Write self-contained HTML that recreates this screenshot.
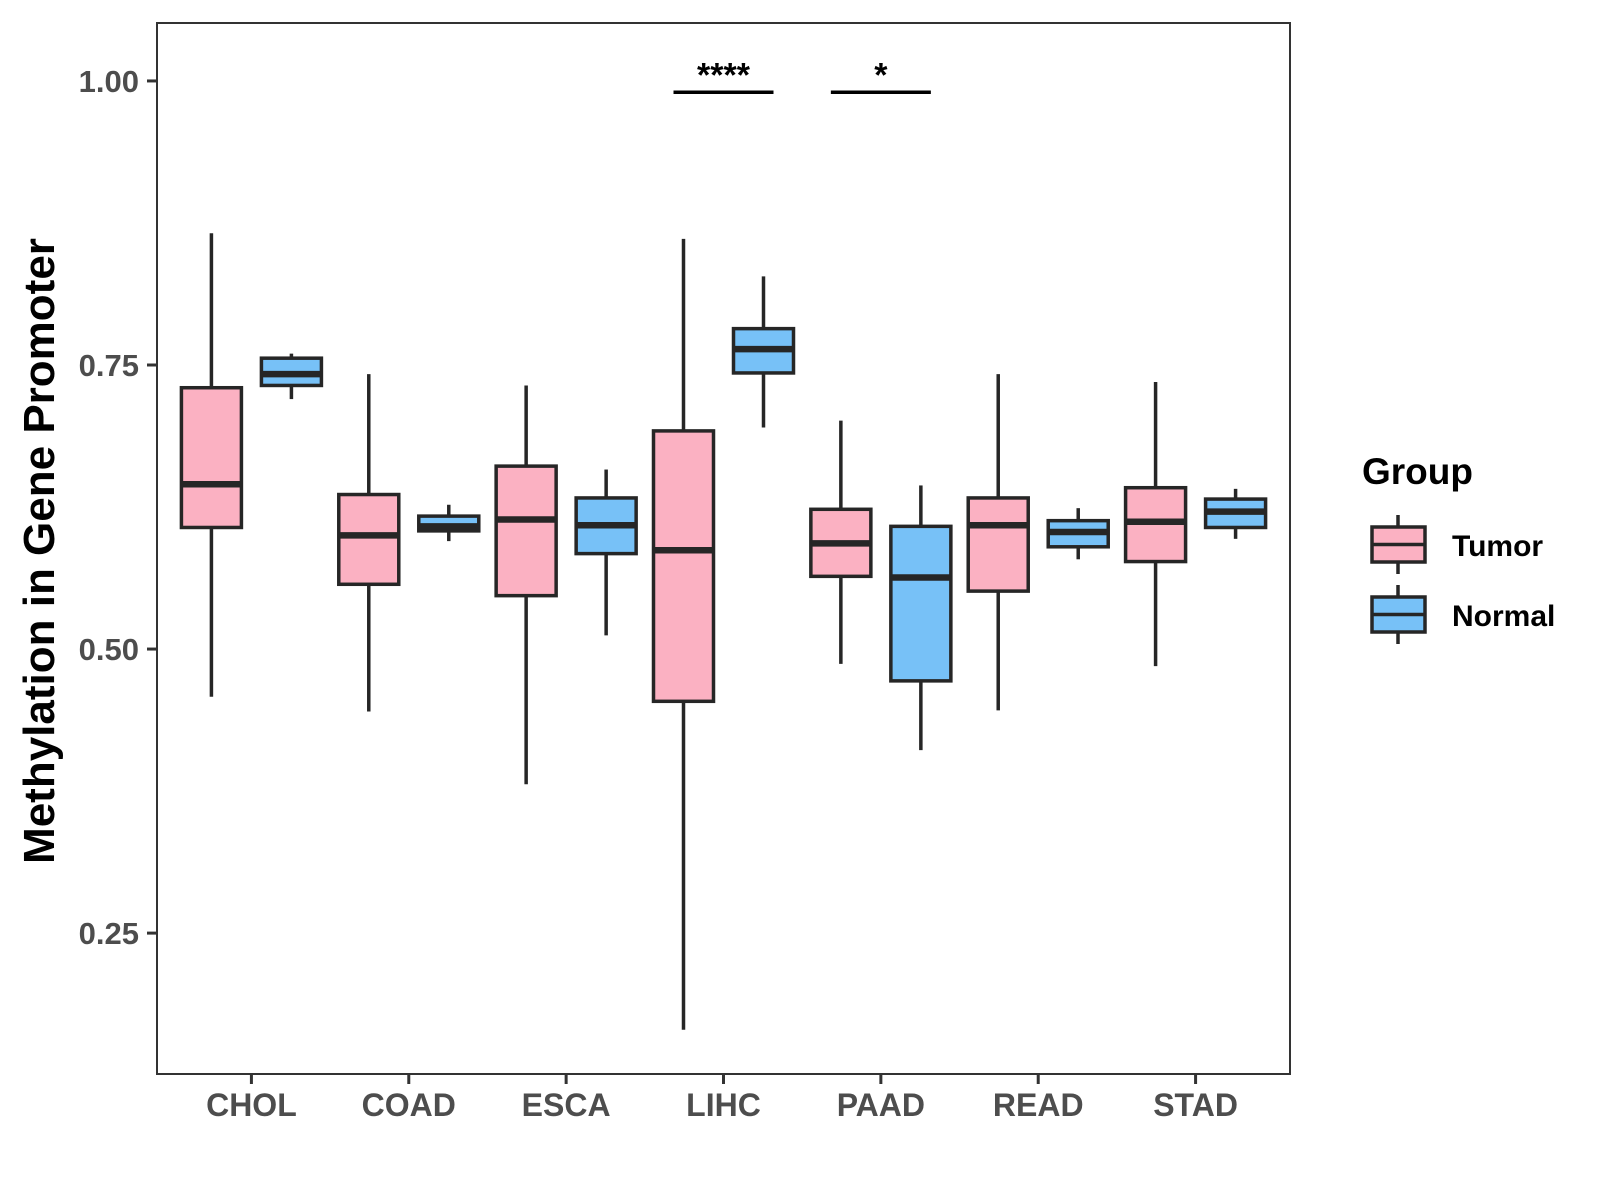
<!DOCTYPE html>
<html><head><meta charset="utf-8"><style>
html,body{margin:0;padding:0;background:#fff;}
svg{display:block;font-family:"Liberation Sans",Arial,sans-serif;}
</style></head><body>
<svg id="chart" width="1600" height="1200" viewBox="0 0 1600 1200" xmlns="http://www.w3.org/2000/svg">
<rect width="1600" height="1200" fill="#fff"/>
<g id="plot"></g>
</svg>
<script>
const categories = ["CHOL","COAD","ESCA","LIHC","PAAD","READ","STAD"];
// [lowWhisker, Q1, median, Q3, highWhisker]
const tumorStats = [
 [0.458,0.607,0.645,0.730,0.866],
 [0.445,0.557,0.600,0.636,0.742],
 [0.381,0.547,0.614,0.661,0.732],
 [0.165,0.454,0.587,0.692,0.861],
 [0.487,0.564,0.593,0.623,0.701],
 [0.446,0.551,0.609,0.633,0.742],
 [0.485,0.577,0.612,0.642,0.735]
];
const normalStats = [
 [0.720,0.732,0.742,0.756,0.760],
 [0.595,0.604,0.608,0.617,0.627],
 [0.512,0.584,0.609,0.633,0.658],
 [0.695,0.743,0.764,0.782,0.828],
 [0.411,0.472,0.563,0.608,0.644],
 [0.579,0.590,0.603,0.613,0.624],
 [0.597,0.607,0.621,0.632,0.641]
];
const yTicks = [0.25,0.50,0.75,1.00];
const yTickLabels = ["0.25","0.50","0.75","1.00"];
const sigCategories = ["LIHC","PAAD"];
const sigLabels = ["****","*"];
const sigValue = 0.99;

const L=157,R=1290,T=23,B=1074;
const ymin=0.126,ymax=1.051;
function y(v){return B-(v-ymin)/(ymax-ymin)*(B-T);}
const step=(R-L)/(categories.length+0.2);
function x(i){return L+(0.6+i)*step;}
const NS="http://www.w3.org/2000/svg";
const g=document.getElementById('plot');
function el(tag,attrs,parent){const e=document.createElementNS(NS,tag);for(const k in attrs)e.setAttribute(k,attrs[k]);(parent||g).appendChild(e);return e;}
const ink="#262626";

function drawBox(cx,s,fill,name){
  const grp=el('g',{});
  
  
  el('line',{x1:cx,x2:cx,y1:y(s[4]),y2:y(s[3]),stroke:ink,'stroke-width':3.5},grp);
  el('line',{x1:cx,x2:cx,y1:y(s[1]),y2:y(s[0]),stroke:ink,'stroke-width':3.5},grp);
  el('rect',{x:cx-30,y:y(s[3]),width:60,height:y(s[1])-y(s[3]),fill:fill,stroke:ink,'stroke-width':3.5},grp);
  el('line',{x1:cx-30,x2:cx+30,y1:y(s[2]),y2:y(s[2]),stroke:ink,'stroke-width':6.5},grp);
}
categories.forEach((c,i)=>{
  drawBox(x(i)-40,tumorStats[i],"#FBB1C2","box-tumor-"+c.toLowerCase());
  drawBox(x(i)+40,normalStats[i],"#77C1F7","box-normal-"+c.toLowerCase());
  const tk=el('line',{x1:x(i),x2:x(i),y1:B,y2:B+10,stroke:"#333",'stroke-width':3});
  
  
  const t=el('text',{x:x(i),y:1116,'text-anchor':'middle','font-size':32,'font-weight':'bold',fill:'#4d4d4d'});
  t.textContent=c;
  
  
});
yTicks.forEach((v,i)=>{
  const tk=el('line',{x1:L-10,x2:L,y1:y(v),y2:y(v),stroke:"#333",'stroke-width':3});
  
  
  const t=el('text',{x:L-18,y:y(v)+11,'text-anchor':'end','font-size':31,'font-weight':'bold',fill:'#4d4d4d'});
  t.textContent=yTickLabels[i];
  
  
});
const frame=el('rect',{x:L,y:T,width:R-L,height:B-T,fill:'none',stroke:'#333','stroke-width':2});


sigCategories.forEach((c,k)=>{
  const i=categories.indexOf(c);
  const ln=el('line',{x1:x(i)-50,x2:x(i)+50,y1:y(sigValue),y2:y(sigValue),stroke:'#000','stroke-width':3.5});
  
  
  const t=el('text',{x:x(i),y:y(sigValue)-6,'text-anchor':'middle','font-size':34,'font-weight':'bold',fill:'#000'});
  t.textContent=sigLabels[k];
  
  
});
const yt=el('text',{transform:'translate(54,551) rotate(-90)','text-anchor':'middle','font-size':44,'font-weight':'bold',fill:'#000'});
yt.textContent="Methylation in Gene Promoter";


// legend
const lt=el('text',{x:1362,y:484,'font-size':37,'font-weight':'bold',fill:'#000'});
lt.textContent="Group";


[["Tumor","#FBB1C2",527],["Normal","#77C1F7",597]].forEach(([lab,col,ty])=>{
  const lg=el('g',{});
  
  
  el('line',{x1:1398,x2:1398,y1:ty-12,y2:ty+47,stroke:ink,'stroke-width':3.5},lg);
  el('rect',{x:1372,y:ty,width:53,height:35,fill:col,stroke:ink,'stroke-width':3.5},lg);
  el('line',{x1:1372,x2:1425,y1:ty+17.5,y2:ty+17.5,stroke:ink,'stroke-width':3.5},lg);
  const t=el('text',{x:1452,y:ty+29,'font-size':30,'font-weight':'bold',fill:'#000'},lg);
  t.textContent=lab;
});
</script>
</body></html>
